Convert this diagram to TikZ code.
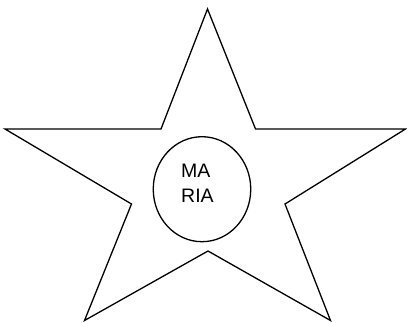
\documentclass[tikz,border=0pt]{standalone}
\usepackage{fontspec}
\setmainfont{Liberation Sans}
\usetikzlibrary{shapes.geometric}

\begin{document}
\begin{tikzpicture}[
x=1pt, y=-1pt,
starline/.style={draw, line width=1.3pt, line join=miter},
every node/.style={font=\fontsize{19.5}{24.5}\selectfont}
]
\useasboundingbox (0,0) rectangle (407,322);

% star corners
\coordinate (tip top) at (207.5,9);
\coordinate (in ru) at (255.5,129);
\coordinate (tip right) at (405.5,129);
\coordinate (in rl) at (285,204);
\coordinate (tip br) at (330.5,320.5);
\coordinate (in bot) at (208,251);
\coordinate (tip bl) at (84.5,320.5);
\coordinate (in ll) at (131.5,204);
\coordinate (tip left) at (5,129);
\coordinate (in lu) at (161,129);

\draw[starline] (tip top) -- (in ru) -- (tip right) -- (in rl) -- (tip br)
  -- (in bot) -- (tip bl) -- (in ll) -- (tip left) -- (in lu) -- cycle;

\node[draw, ellipse, line width=1.3pt,
minimum width=97.5pt,
minimum height=105pt,
inner sep=0pt] (badge) at (202,189.2) {};

\node[align=left, inner sep=0pt, anchor=west] (name) at (181,183.5) {MA\\RIA};

\end{tikzpicture}
\end{document}
